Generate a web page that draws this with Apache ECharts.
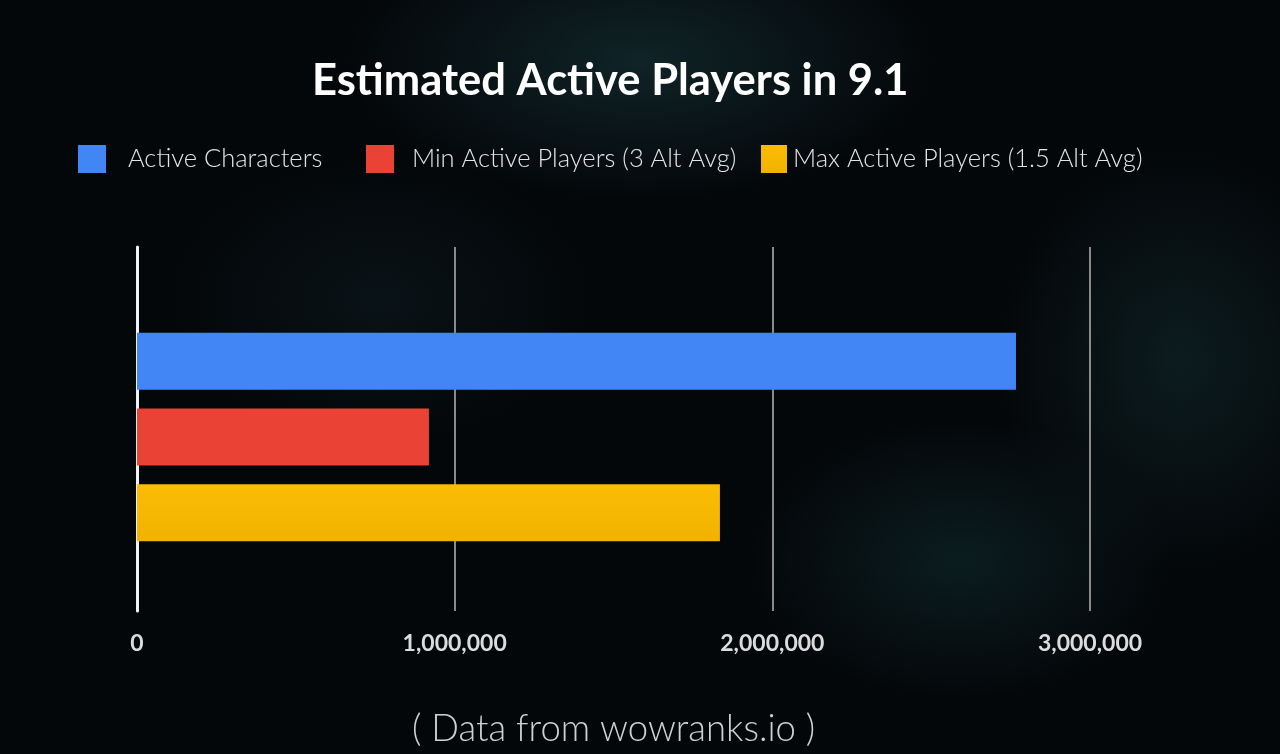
<!DOCTYPE html>
<html>
<head>
<meta charset="utf-8">
<script src="https://cdn.jsdelivr.net/npm/echarts@6/dist/echarts.min.js"></script>
<style>
  html, body { margin: 0; padding: 0; width: 1280px; height: 754px; overflow: hidden; }
  body {
    background:
      radial-gradient(ellipse 420px 200px at 640px 60px, rgba(30, 70, 75, 0.45), rgba(0,0,0,0) 70%),
      radial-gradient(ellipse 260px 300px at 1180px 360px, rgba(25, 60, 62, 0.40), rgba(0,0,0,0) 70%),
      radial-gradient(ellipse 300px 200px at 960px 560px, rgba(20, 55, 58, 0.45), rgba(0,0,0,0) 70%),
      radial-gradient(ellipse 300px 200px at 380px 300px, rgba(20, 45, 50, 0.30), rgba(0,0,0,0) 70%),
      #04070a;
  }
  #chart { width: 1280px; height: 754px; }
</style>
</head>
<body>
<div id="chart"></div>
<script>
// 데이터
const seriesNames = ['Active Characters', 'Min Active Players (3 Alt Avg)', 'Max Active Players (1.5 Alt Avg)'];
const seriesValues = [2767000, 919000, 1835000];
const seriesColors = ['#4285f4', '#ea4335', '#fbbc05'];
const xTicks = [0, 1000000, 2000000, 3000000];

const FONT = 'Lato, "Open Sans", sans-serif';

const chart = echarts.init(document.getElementById('chart'));

// 범례 위치 (원본 슬라이드의 간격이 제각각이라 항목별로 따로 배치)
const legendPos = [
    { left: 78, gap: 17, w: 28 },
    { left: 366, gap: 13, w: 28 },
    { left: 761, gap: 1, w: 26 }
];

const legends = seriesNames.map((name, i) => ({
    data: [name],
    left: legendPos[i].left,
    top: 145,
    padding: 0,
    itemWidth: legendPos[i].w,
    itemHeight: 28,
    icon: 'rect',
    selectedMode: false,
    textStyle: {
        color: '#e4e4e4',
        fontFamily: FONT,
        fontWeight: 300,
        fontSize: 25.5,
        padding: [0, 0, 0, legendPos[i].gap]
    }
}));

// 첫 번째 빈 시리즈는 막대 묶음을 원본처럼 아래로 살짝 내리기 위한 자리표시
const series = [{
    type: 'bar',
    name: '_spacer',
    barWidth: 12,
    barGap: '33%',
    silent: true,
    data: [null]
}].concat(seriesNames.map((name, i) => ({
    type: 'bar',
    name: name,
    barWidth: 57,
    barGap: '33%',
    itemStyle: {
        color: i === 2
            ? new echarts.graphic.LinearGradient(0, 0, 0, 1, [
                { offset: 0, color: '#fbbc05' },
                { offset: 1, color: '#f2b200' }
            ])
            : seriesColors[i]
    },
    data: [seriesValues[i]]
})));

const option = {
    animation: false,
    color: seriesColors,
    title: [
        {
            text: 'Estimated Active Players in 9.1',
            left: 312,
            top: 59,
            padding: 0,
            textStyle: { color: '#ffffff', fontFamily: FONT, fontWeight: 'bold', fontSize: 43.5 }
        },
        {
            text: '( Data from wowranks.io )',
            left: 412,
            top: 711,
            padding: 0,
            textStyle: { color: '#d0d0d0', fontFamily: FONT, fontWeight: 300, fontSize: 36.5 }
        }
    ],
    legend: legends,
    grid: { left: 137, right: 190, top: 247, bottom: 143 },
    xAxis: {
        type: 'value',
        min: xTicks[0],
        max: xTicks[xTicks.length - 1],
        interval: xTicks[1] - xTicks[0],
        axisLine: { show: false },
        axisTick: { show: false },
        axisLabel: {
            color: '#dcdcdc',
            fontFamily: FONT,
            fontWeight: 'bold',
            fontSize: 23,
            margin: 21,
            formatter: v => v.toLocaleString('en-US')
        },
        splitLine: { lineStyle: { color: '#8a8a8a', width: 2 } }
    },
    yAxis: {
        type: 'category',
        inverse: true,
        data: [''],
        axisLine: { show: true, lineStyle: { color: '#f2f2f2', width: 3 } },
        axisTick: { show: false },
        axisLabel: { show: false },
        splitLine: { show: false }
    },
    series: series
};

chart.setOption(option);
window.addEventListener('resize', () => chart.resize());
</script>
</body>
</html>
